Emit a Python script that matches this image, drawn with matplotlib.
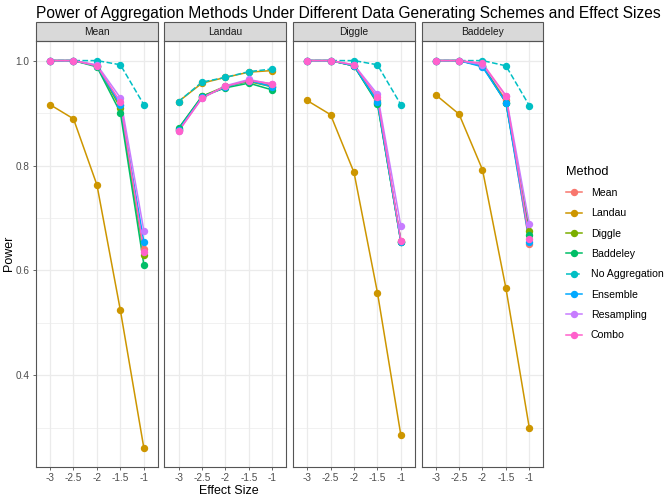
import matplotlib
matplotlib.use("Agg")
import matplotlib.pyplot as plt
from matplotlib.patches import Rectangle
from matplotlib.lines import Line2D

plt.rcParams['font.family'] = ['Liberation Sans', 'DejaVu Sans']

effect = [-3, -2.5, -2, -1.5, -1]
methods = ["Mean", "Landau", "Diggle", "Baddeley", "No Aggregation",
           "Ensemble", "Resampling", "Combo"]
colors = ["#F8766D", "#CD9600", "#7CAE00", "#00BE67", "#00BFC4",
          "#00A9FF", "#C77CFF", "#FF61CC"]
panels = ["Mean", "Landau", "Diggle", "Baddeley"]

# rows follow the order of `methods`
power_mean = [
    [1.0, 1.0, 0.990, 0.915, 0.640],
    [0.916, 0.889, 0.763, 0.524, 0.262],
    [1.0, 1.0, 0.990, 0.910, 0.630],
    [1.0, 1.0, 0.988, 0.901, 0.611],
    [1.0, 1.0, 1.0, 0.992, 0.916],
    [1.0, 1.0, 0.990, 0.915, 0.655],
    [1.0, 1.0, 0.992, 0.929, 0.676],
    [1.0, 1.0, 0.990, 0.921, 0.636],
]
power_landau = [
    [0.868, 0.930, 0.950, 0.962, 0.952],
    [0.922, 0.957, 0.968, 0.978, 0.981],
    [0.870, 0.932, 0.951, 0.960, 0.950],
    [0.871, 0.932, 0.948, 0.957, 0.944],
    [0.922, 0.959, 0.968, 0.979, 0.984],
    [0.868, 0.930, 0.950, 0.962, 0.950],
    [0.866, 0.928, 0.952, 0.964, 0.955],
    [0.865, 0.929, 0.951, 0.962, 0.956],
]
power_diggle = [
    [1.0, 1.0, 0.990, 0.925, 0.656],
    [0.924, 0.897, 0.787, 0.558, 0.286],
    [1.0, 1.0, 0.990, 0.920, 0.655],
    [1.0, 1.0, 0.990, 0.918, 0.655],
    [1.0, 1.0, 1.0, 0.992, 0.916],
    [1.0, 1.0, 0.990, 0.922, 0.654],
    [1.0, 1.0, 0.992, 0.936, 0.684],
    [1.0, 1.0, 0.992, 0.930, 0.657],
]
power_baddeley = [
    [1.0, 1.0, 0.990, 0.925, 0.651],
    [0.935, 0.898, 0.792, 0.566, 0.299],
    [1.0, 1.0, 0.990, 0.920, 0.676],
    [1.0, 1.0, 0.990, 0.920, 0.668],
    [1.0, 1.0, 1.0, 0.990, 0.914],
    [1.0, 1.0, 0.988, 0.920, 0.655],
    [1.0, 1.0, 0.992, 0.933, 0.688],
    [1.0, 1.0, 0.995, 0.933, 0.660],
]
power = [power_mean, power_landau, power_diggle, power_baddeley]

fig, axes = plt.subplots(1, 4, figsize=(6.66, 4.96), dpi=100, sharey=True)
plt.subplots_adjust(left=0.054, right=0.816, bottom=0.059, top=0.917, wspace=0.054)

for ax, name, vals in zip(axes, panels, power):
    for m, c, v in zip(methods, colors, vals):
        ls = "--" if m == "No Aggregation" else "-"
        ax.plot(effect, v, color=c, lw=1.1, ls=ls, zorder=2)
    for m, c, v in zip(methods, colors, vals):
        ax.plot(effect, v, color=c, lw=0, marker="o", ms=4.3, zorder=3)
    ax.set_xlim(-3.3, -0.7)
    ax.set_ylim(0.226, 1.037)
    ax.set_xticks(effect)
    ax.set_xticklabels(["-3", "-2.5", "-2", "-1.5", "-1"])
    ax.set_yticks([0.4, 0.6, 0.8, 1.0])
    ax.set_yticks([0.3, 0.5, 0.7, 0.9], minor=True)
    ax.grid(True, which="major", color="#EBEBEB", lw=0.9, zorder=0)
    ax.grid(True, which="minor", axis="y", color="#EBEBEB", lw=0.5, zorder=0)
    ax.set_axisbelow(True)
    ax.tick_params(which="major", labelsize=7.2, colors="#4D4D4D", length=2.5,
                   width=0.6, pad=2)
    ax.tick_params(which="minor", length=0)
    for s in ax.spines.values():
        s.set_color("#555555")
        s.set_linewidth(0.8)
    # facet strip
    strip = Rectangle((0, 1.0), 1, 0.0453, transform=ax.transAxes,
                      facecolor="#D9D9D9", edgecolor="#555555", lw=0.8,
                      clip_on=False)
    ax.add_patch(strip)
    ax.text(0.5, 1.0227, name, transform=ax.transAxes, ha="center",
            va="center", fontsize=7.4, color="#1A1A1A")

for ax in axes[1:]:
    ax.tick_params(axis="y", which="both", left=False)

fig.text(0.014, 0.49, "Power", rotation=90, ha="center", va="center", fontsize=9)
fig.text(0.343, 0.01, "Effect Size", ha="center", va="center", fontsize=9)
fig.text(0.054, 0.988, "Power of Aggregation Methods Under Different Data "
         "Generating Schemes and Effect Sizes", ha="left", va="top", fontsize=11.2)

handles = []
for m, c in zip(methods, colors):
    ls = "--" if m == "No Aggregation" else "-"
    handles.append(Line2D([], [], color=c, lw=1.1, ls=ls, marker="o", ms=4.3))
leg = fig.legend(handles, methods, title="Method", loc="upper left",
                 bbox_to_anchor=(0.835, 0.685), frameon=False, fontsize=7.6,
                 title_fontsize=9.2, handlelength=1.6, labelspacing=0.98,
                 handletextpad=0.8)
leg._legend_box.align = "left"

fig.savefig("out.png", dpi=100)
